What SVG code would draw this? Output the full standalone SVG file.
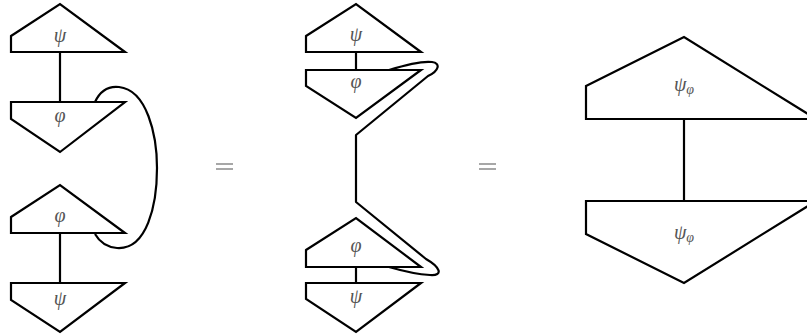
<svg xmlns="http://www.w3.org/2000/svg" width="807" height="336" viewBox="0 0 807 336">
<style>
.sh{fill:#fff;stroke:#000;stroke-width:2.2;stroke-linejoin:miter}
.ln{fill:none;stroke:#000;stroke-width:2.2;stroke-linejoin:round}
.lb{font-family:"Liberation Serif","DejaVu Serif",serif;font-style:italic;font-size:20px;fill:#555;text-anchor:middle}
.eq{stroke:#777;stroke-width:1.3}
</style>
<rect width="807" height="336" fill="#fff"/>
<g id="connectors">
<line class="ln" x1="60" y1="52" x2="60" y2="102"/>
<line class="ln" x1="60" y1="233" x2="60" y2="283"/>
<path class="ln" d="M95,102 C101,89 110,86 119,87 C147,90 157,135 157,168 C157,205 147,250 117,248 C106,247 99,241 95,234"/>
<line class="ln" x1="356" y1="52" x2="356" y2="70"/>
<line class="ln" x1="356" y1="267" x2="356" y2="283"/>
<path class="ln" d="M389,70 C405,65 424,61 432,62 C441,63 439,71 428,76 L356,135 L356,202 L426,259 C440,267 444,276 430,275 C412,274 396,269 389,267"/>
<line class="ln" x1="684" y1="119" x2="684" y2="201"/>
</g>
<g id="psi1">
<polygon class="sh" points="11,36 60,4 125,52 11,52"/>
<text class="lb" x="60" y="42">ψ</text>
</g>
<g id="phi1">
<polygon class="sh" points="11,102 125,102 60,152 11,119"/>
<text class="lb" x="60" y="122">φ</text>
</g>
<g id="phi2">
<polygon class="sh" points="11,217 60,185 125,233 11,233"/>
<text class="lb" x="60" y="222">φ</text>
</g>
<g id="psi2">
<polygon class="sh" points="11,283 125,283 60,332 11,300"/>
<text class="lb" x="60" y="305">ψ</text>
</g>
<g id="eq1">
<line class="eq" x1="216" y1="164" x2="233" y2="164"/>
<line class="eq" x1="216" y1="169" x2="233" y2="169"/>
</g>
<g id="psi3">
<polygon class="sh" points="306,36 356,4 421,52 306,52"/>
<text class="lb" x="356" y="41">ψ</text>
</g>
<g id="phi3">
<polygon class="sh" points="306,70 421,70 356,118 306,86"/>
<text class="lb" x="356" y="88">φ</text>
</g>
<g id="phi4">
<polygon class="sh" points="306,250 356,218 421,267 306,267"/>
<text class="lb" x="356" y="252">φ</text>
</g>
<g id="psi4">
<polygon class="sh" points="306,283 421,283 356,332 306,299"/>
<text class="lb" x="356" y="303">ψ</text>
</g>
<g id="eq2">
<line class="eq" x1="479" y1="164" x2="496" y2="164"/>
<line class="eq" x1="479" y1="169" x2="496" y2="169"/>
</g>
<g id="psiphi1">
<polygon class="sh" points="586,86 684,37 816,119 586,119"/>
<text class="lb" x="684" y="91">ψ<tspan font-size="14" dy="3">φ</tspan></text>
</g>
<g id="psiphi2">
<polygon class="sh" points="586,201 816,201 684,283 586,234"/>
<text class="lb" x="684" y="239">ψ<tspan font-size="14" dy="3">φ</tspan></text>
</g>
</svg>
